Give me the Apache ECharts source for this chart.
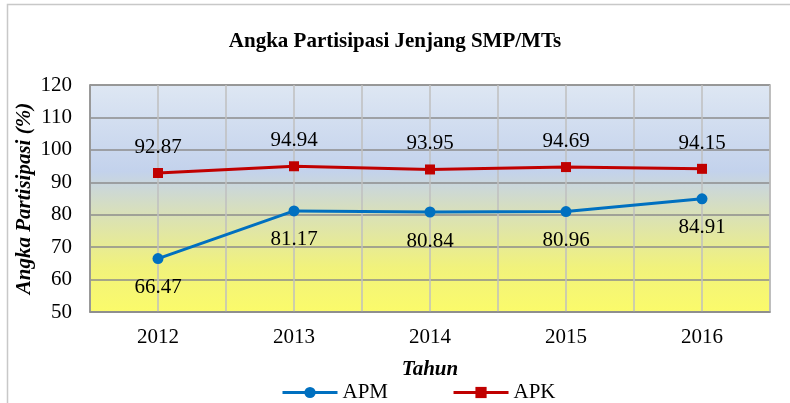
<!DOCTYPE html>
<html>
<head>
<meta charset="utf-8">
<script src="https://cdn.jsdelivr.net/npm/echarts@6/dist/echarts.min.js"></script>
<style>
  html, body { margin: 0; padding: 0; background: #fff; }
  #chart { width: 790px; height: 403px; }
</style>
</head>
<body>
<div id="chart"></div>
<script>
  // data
  var tahun = ['2012', '2013', '2014', '2015', '2016']
  var apm = [66.47, 81.17, 80.84, 80.96, 84.91]
  var apk = [92.87, 94.94, 93.95, 94.69, 94.15]
  // half-step ticks, only used to draw the vertical grid lines
  var halfTicks = ['a', 'b', 'c', 'd', 'e', 'f', 'g', 'h', 'i', 'j']

  var font = 'Liberation Serif'
  var fs = 21
  var myChart = echarts.init(document.getElementById('chart'))

  var option = {
    backgroundColor: '#ffffff',
    textStyle: { fontFamily: font, color: '#000' },
    title: {
      text: 'Angka Partisipasi Jenjang SMP/MTs',
      left: 'center',
      top: 26,
      textStyle: { fontFamily: font, fontSize: fs, fontWeight: 'bold', color: '#000' }
    },
    graphic: [{
      type: 'rect',
      shape: { x: 7.5, y: 4.5, width: 800, height: 420 },
      style: { fill: 'none', stroke: '#c8c8c8', lineWidth: 1.5 },
      z: -1
    }],
    legend: {
      data: ['APM', 'APK'],
      left: 276,
      top: 377,
      itemWidth: 55,
      itemHeight: 14,
      itemGap: 64,
      lineStyle: { width: 3 },
      textStyle: { fontFamily: font, fontSize: fs, color: '#000' }
    },
    grid: {
      left: 90,
      right: 20,
      top: 85,
      bottom: 91,
      outerBoundsMode: 'none',
      show: true,
      borderColor: '#a6a6a6',
      borderWidth: 1.5,
      backgroundColor: new echarts.graphic.LinearGradient(0, 0, 0, 1, [
        { offset: 0, color: '#dee7f3' },
        { offset: 0.38, color: '#c3d2ec' },
        { offset: 0.55, color: '#d7dfbd' },
        { offset: 0.8, color: '#f1f27c' },
        { offset: 1, color: '#fbfb6a' }
      ])
    },
    xAxis: [
      {
        type: 'category',
        data: tahun,
        boundaryGap: true,
        name: 'Tahun',
        nameLocation: 'middle',
        nameGap: 47,
        nameMoveOverlap: false,
        nameTextStyle: { fontFamily: font, fontSize: fs, fontWeight: 'bold', fontStyle: 'italic', color: '#000' },
        axisLine: { lineStyle: { color: '#8c8c8c', width: 1.5 } },
        axisTick: { show: false },
        axisLabel: { fontFamily: font, fontSize: fs, color: '#000', margin: 15 },
        splitLine: { show: false }
      },
      {
        type: 'category',
        data: halfTicks,
        boundaryGap: true,
        position: 'bottom',
        axisLine: { show: false },
        axisTick: { show: false },
        axisLabel: { show: false },
        splitLine: { show: true, interval: 0, lineStyle: { color: '#bfbfbf', width: 1.5 } }
      }
    ],
    yAxis: {
      type: 'value',
      min: 50,
      max: 120,
      interval: 10,
      name: 'Angka Partisipasi (%)',
      nameLocation: 'middle',
      nameGap: 55,
      nameMoveOverlap: false,
      nameTextStyle: { fontFamily: font, fontSize: fs, fontWeight: 'bold', fontStyle: 'italic', color: '#000' },
      axisLine: { show: true, lineStyle: { color: '#8c8c8c', width: 1.5 } },
      axisTick: { show: false },
      axisLabel: { fontFamily: font, fontSize: fs, color: '#000', margin: 18 },
      splitLine: { show: true, lineStyle: { color: '#8c8c8c', width: 1.5 } }
    },
    series: [
      {
        name: 'APM',
        type: 'line',
        data: apm,
        color: '#0070c0',
        symbol: 'circle',
        symbolSize: 11,
        lineStyle: { width: 3 },
        label: {
          show: true,
          position: 'bottom',
          distance: 13,
          fontFamily: font,
          fontSize: fs,
          color: '#000',
          formatter: function (p) { return p.value.toFixed(2) }
        },
        z: 3
      },
      {
        name: 'APK',
        type: 'line',
        data: apk,
        color: '#c00000',
        symbol: 'rect',
        symbolSize: 10,
        lineStyle: { width: 3 },
        label: {
          show: true,
          position: 'top',
          distance: 10,
          fontFamily: font,
          fontSize: fs,
          color: '#000',
          formatter: function (p) { return p.value.toFixed(2) }
        },
        z: 3
      }
    ]
  }

  myChart.setOption(option)
</script>
</body>
</html>
